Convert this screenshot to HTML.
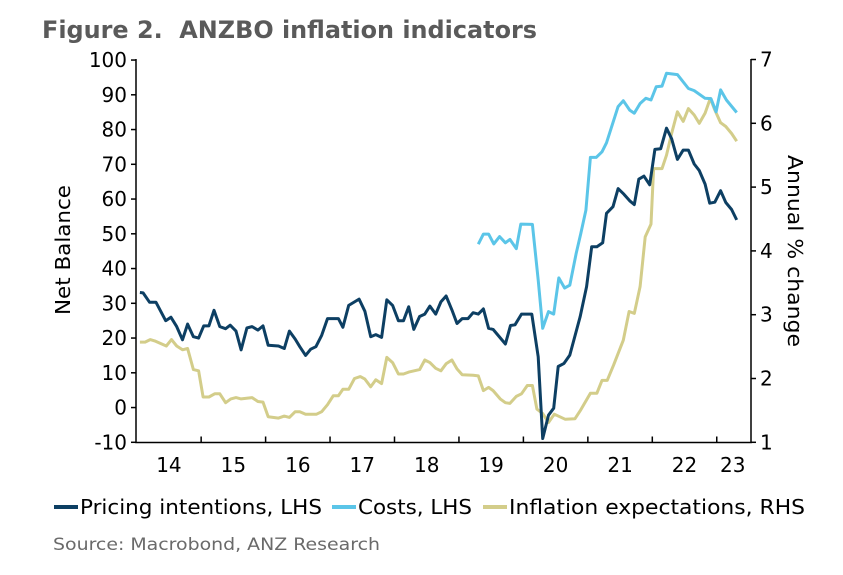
<!DOCTYPE html>
<html><head><meta charset="utf-8"><style>
body{margin:0;background:#fff;width:843px;height:571px;overflow:hidden;font-family:"DejaVu Sans","Liberation Sans",sans-serif}
</style></head><body>
<svg id="chart" width="843" height="571" xmlns="http://www.w3.org/2000/svg" font-family="DejaVu Sans, Liberation Sans, sans-serif">
<text x="42" y="38" font-size="24" font-weight="bold" fill="#5a5a5a" textLength="495" lengthAdjust="spacingAndGlyphs" xml:space="preserve">Figure 2.  ANZBO inflation indicators</text>
<g id="axes"></g>
<g id="series"></g>
<text x="0" y="0" transform="translate(70,250) rotate(-90)" text-anchor="middle" font-size="20" fill="#000" textLength="130" lengthAdjust="spacingAndGlyphs">Net Balance</text>
<text x="0" y="0" transform="translate(788,251) rotate(90)" text-anchor="middle" font-size="20" fill="#000" textLength="192" lengthAdjust="spacingAndGlyphs">Annual % change</text>
<g font-size="20">
<line x1="54" y1="507" x2="78" y2="507" stroke="#0d3f63" stroke-width="4"/>
<text x="80" y="514" textLength="242" lengthAdjust="spacingAndGlyphs">Pricing intentions, LHS</text>
<line x1="332" y1="507" x2="356" y2="507" stroke="#5bc5e8" stroke-width="4"/>
<text x="358" y="514" textLength="114" lengthAdjust="spacingAndGlyphs">Costs, LHS</text>
<line x1="483" y1="507" x2="507" y2="507" stroke="#d3cd8a" stroke-width="4"/>
<text x="509" y="514" textLength="296" lengthAdjust="spacingAndGlyphs">Inflation expectations, RHS</text>
</g>
<text x="53" y="550" font-size="17" fill="#6a6a6a" textLength="327" lengthAdjust="spacingAndGlyphs">Source: Macrobond, ANZ Research</text>
</svg>
<script>
const yearLabels=["14","15","16","17","18","19","20","21","22","23"];
const leftTicks=[100,90,80,70,60,50,40,30,20,10,0,-10];
const rightTicks=[7,6,5,4,3,2,1];
const pricingT=[2014.05,2014.1,2014.2,2014.3,2014.45,2014.53,2014.62,2014.71,2014.79,2014.88,2014.96,2015.04,2015.12,2015.2,2015.29,2015.38,2015.45,2015.54,2015.62,2015.71,2015.79,2015.88,2015.96,2016.04,2016.2,2016.29,2016.37,2016.46,2016.53,2016.62,2016.7,2016.78,2016.87,2016.96,2017.13,2017.2,2017.29,2017.45,2017.54,2017.63,2017.71,2017.8,2017.88,2017.97,2018.06,2018.14,2018.22,2018.3,2018.39,2018.47,2018.55,2018.64,2018.72,2018.8,2018.89,2018.97,2019.05,2019.14,2019.22,2019.3,2019.38,2019.46,2019.53,2019.72,2019.8,2019.87,2019.97,2020.13,2020.23,2020.3,2020.39,2020.47,2020.54,2020.63,2020.72,2020.88,2020.98,2021.06,2021.14,2021.23,2021.29,2021.39,2021.47,2021.56,2021.65,2021.72,2021.79,2021.87,2021.96,2022.04,2022.13,2022.22,2022.3,2022.39,2022.48,2022.56,2022.65,2022.73,2022.82,2022.89,2022.97,2023.06,2023.14,2023.23,2023.31];
const pricingV=[33.1,33,30.3,30.3,25,26,23.3,19.5,24,20.4,20,23.5,23.5,28,23.3,22.7,23.7,22,16.6,22.9,23.3,22.3,23.5,17.9,17.7,17,22,19.7,17.5,15,16.8,17.5,20.8,25.6,25.6,23.1,29.4,31.2,27.7,20.4,21,20.2,31,29.4,25,25,29,22.5,26.2,26.9,29.2,26.9,30.4,32.1,28.1,24.2,25.6,25.6,27.3,26.9,28.4,22.8,22.5,18.3,23.6,23.8,26.9,26.9,14.6,-8.9,-2.2,-0.2,11.8,12.7,15.1,26.1,34.8,46.3,46.3,47.4,55.9,57.8,63,61.4,59.5,58.4,65.7,66.6,64.1,74.3,74.5,80.4,77.4,71.4,74.1,74.1,70.1,68.2,64.3,58.8,59.1,62.4,59,57,54];
const costsT=[2019.3,2019.38,2019.46,2019.54,2019.63,2019.72,2019.79,2019.89,2019.96,2020.14,2020.23,2020.3,2020.39,2020.47,2020.55,2020.64,2020.72,2020.82,2020.89,2020.97,2021.04,2021.13,2021.22,2021.29,2021.47,2021.55,2021.65,2021.72,2021.81,2021.9,2021.98,2022.06,2022.15,2022.22,2022.39,2022.56,2022.65,2022.82,2022.91,2022.99,2023.06,2023.15,2023.31];
const costsV=[47,49.9,49.9,47.1,49.2,47.4,48.4,45.7,52.8,52.7,36.7,22.8,27.6,26.9,37.3,34.4,35.2,44.4,50.1,56.8,72,72,73.6,76.2,86.6,88.3,85.6,84.7,87.5,89,88.5,92.3,92.5,96.2,95.8,91.8,91.2,89,88.9,85.1,91.4,88.5,84.9];
const inflT=[2014.05,2014.13,2014.21,2014.28,2014.46,2014.54,2014.62,2014.71,2014.79,2014.88,2014.96,2015.03,2015.12,2015.21,2015.29,2015.38,2015.46,2015.54,2015.62,2015.79,2015.88,2015.96,2016.04,2016.2,2016.29,2016.37,2016.46,2016.53,2016.62,2016.79,2016.87,2016.96,2017.05,2017.13,2017.2,2017.29,2017.38,2017.47,2017.54,2017.63,2017.71,2017.8,2017.88,2017.97,2018.06,2018.14,2018.22,2018.39,2018.47,2018.55,2018.64,2018.72,2018.8,2018.89,2018.97,2019.05,2019.22,2019.3,2019.38,2019.46,2019.53,2019.64,2019.72,2019.79,2019.89,2019.97,2020.06,2020.14,2020.21,2020.3,2020.39,2020.48,2020.65,2020.8,2020.89,2021.04,2021.14,2021.22,2021.3,2021.4,2021.55,2021.64,2021.72,2021.81,2021.89,2021.98,2022.02,2022.15,2022.22,2022.3,2022.39,2022.48,2022.56,2022.65,2022.73,2022.82,2022.9,2022.97,2023.06,2023.14,2023.23,2023.31];
const inflV=[2.57,2.57,2.61,2.59,2.51,2.61,2.51,2.45,2.47,2.14,2.12,1.71,1.71,1.76,1.76,1.62,1.68,1.7,1.68,1.7,1.64,1.63,1.4,1.38,1.41,1.39,1.48,1.48,1.44,1.44,1.48,1.59,1.73,1.73,1.83,1.83,2.0,2.03,1.99,1.87,1.98,1.92,2.33,2.25,2.07,2.07,2.1,2.14,2.29,2.25,2.16,2.12,2.23,2.29,2.15,2.06,2.05,2.04,1.81,1.86,1.81,1.68,1.62,1.61,1.72,1.76,1.89,1.89,1.52,1.45,1.31,1.44,1.36,1.37,1.51,1.77,1.77,1.97,1.97,2.21,2.6,3.05,3.02,3.44,4.22,4.42,5.29,5.29,5.5,5.84,6.18,6.03,6.23,6.13,6.0,6.16,6.39,6.21,6.01,5.95,5.84,5.72];

const NS="http://www.w3.org/2000/svg";
const X0=136.7,YW=64.45,L=136,R=751,B=442.5;
const xs=t=>X0+(t-2014)*YW;
const yl=v=>442.3-(v+10)*3.475;
const yr=v=>442.3-(v-1)*63.8;
function mk(tag,attrs,parent){const e=document.createElementNS(NS,tag);for(const k in attrs)e.setAttribute(k,attrs[k]);parent.appendChild(e);return e;}
const ax=document.getElementById('axes');
let e;
e=mk('path',{d:`M${L},59 V${B} H${R} V59`,fill:'none',stroke:'#000','stroke-width':1.5},ax);


leftTicks.forEach(v=>{
  e=mk('line',{x1:L-5,x2:L,y1:yl(v),y2:yl(v),stroke:'#000','stroke-width':1.5},ax);
  
  
  e=mk('text',{x:L-9,y:yl(v)+7,'text-anchor':'end','font-size':20},ax);e.textContent=v;
  
  
});
rightTicks.forEach(v=>{
  e=mk('line',{x1:R,x2:R+5,y1:yr(v),y2:yr(v),stroke:'#000','stroke-width':1.5},ax);
  
  
  e=mk('text',{x:R+9,y:yr(v)+7,'font-size':20},ax);e.textContent=v;
  
  
});
yearLabels.forEach((lab,i)=>{
  const x=xs(2014+i);
  if(i>0){e=mk('line',{x1:x,x2:x,y1:B-6,y2:B,stroke:'#000','stroke-width':1.5},ax);
  
  }
  const cx=i<9?x+YW/2:x+16;
  e=mk('text',{x:cx,y:472,'text-anchor':'middle','font-size':20},ax);e.textContent=lab;
  
  
});
const sg=document.getElementById('series');
function line(T,V,yf,color,name){
  const d=T.map((t,i)=>(i?'L':'M')+xs(t).toFixed(1)+','+yf(V[i]).toFixed(1)).join('');
  const p=mk('path',{d,fill:'none',stroke:color,'stroke-width':3,'stroke-linejoin':'round'},sg);
  
  
}
line(inflT,inflV,yr,'#d3cd8a','inflation-expectations-line');
line(costsT,costsV,yl,'#5bc5e8','costs-line');
line(pricingT,pricingV,yl,'#0d3f63','pricing-intentions-line');
</script>
</body></html>
